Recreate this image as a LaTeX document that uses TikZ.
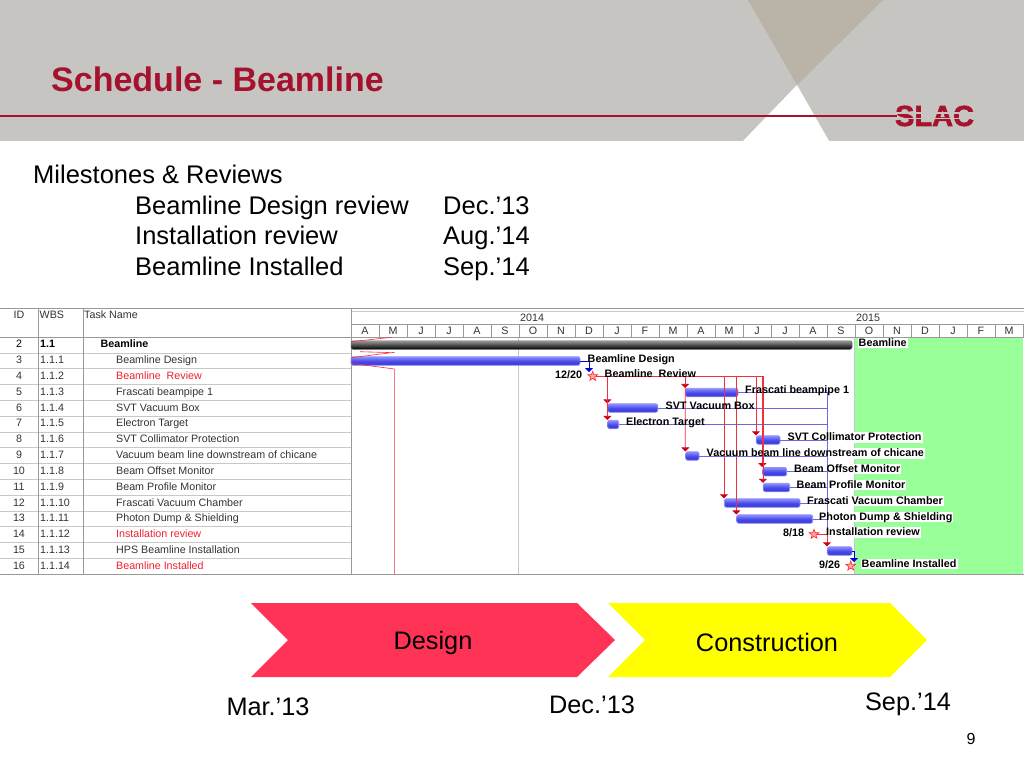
\documentclass[tikz,border=0pt]{standalone}
\usepackage{fontspec}
\setmainfont{Liberation Sans}
\newfontfamily\slacfont[BoldFeatures={FakeBold=2}]{Liberation Sans}
\usetikzlibrary{
    arrows.meta,
    shapes.geometric,
}
\definecolor{slacred}{HTML}{A5122E}
\definecolor{headgrey}{HTML}{C6C5C2}
\definecolor{headdark}{HTML}{B9B3A8}
\definecolor{gridgrey}{HTML}{C8C8C8}
\definecolor{framegrey}{HTML}{999999}
\definecolor{donegreen}{HTML}{99FF99}
\definecolor{taskred}{HTML}{F02030}
\definecolor{designred}{HTML}{FF3355}
\definecolor{buildyellow}{HTML}{FFFF00}
\definecolor{barblue}{HTML}{4C4CEE}
\definecolor{barlight}{HTML}{9090F8}
\definecolor{bardark}{HTML}{3434D0}
\definecolor{linkred}{HTML}{F03040}
\definecolor{tipred}{HTML}{D00010}
\definecolor{linkblue}{HTML}{6A6AE0}
\tikzset{
  bigtext/.style={anchor=base west,inner sep=0pt,font=\fontsize{25.5}{28}\selectfont},
  celltext/.style={inner sep=0pt,text=black!80,font=\fontsize{10.7}{12}\selectfont,text height=8pt,text depth=2.3pt},
  barback/.style={anchor=west,inner sep=1pt,fill=white,text=white,font=\bfseries\fontsize{10.8}{12}\selectfont,text height=7.8pt,text depth=.6pt},
  barlabel/.style={anchor=west,inner sep=1pt,font=\bfseries\fontsize{10.8}{12}\selectfont,text height=7.8pt,text depth=.6pt},
  datelabel/.style={anchor=west,inner sep=0pt,font=\bfseries\fontsize{10.8}{12}\selectfont},
  taskbar/.style={rounded corners=2pt,inner sep=0pt,minimum height=8.5pt,draw=barlight,line width=.7pt,
    top color=barlight,bottom color=bardark,middle color=barblue},
  sumbar/.style={rounded corners=2pt,inner sep=0pt,minimum height=8.5pt,draw=black!60,line width=.5pt,
    top color=black!40,bottom color=black,middle color=black!70},
  milestone/.style={star,star points=5,star point ratio=2.4,inner sep=0pt,minimum size=10pt,fill=red!35,draw=red!85,line width=.6pt},
  redlink/.style={draw=linkred,line width=.6pt},
  redtip/.style={draw=linkred,line width=.7pt,-{Triangle[width=8pt,length=4pt,color=tipred]}},
  bluelink/.style={draw=linkblue,line width=.6pt},
  bluetip/.style={draw=blue!85!black,line width=.8pt,-{Triangle[width=8pt,length=4pt]}},
  phaselabel/.style={inner sep=0pt,font=\fontsize{25.3}{28}\selectfont},
}
\begin{document}
\begin{tikzpicture}[x=1pt,y=-1pt]
  \useasboundingbox (0,0) rectangle (1024,768);

  % slide header
  \fill[headgrey] (0,0) rectangle (1024,141);
  \fill[headdark] (748,0) -- (883,0) -- (797,85) -- cycle;
  \fill[white] (797,85) -- (743,141) -- (829,141) -- cycle;
  \node[anchor=base west,inner sep=0pt,text=slacred,font=\bfseries\fontsize{34}{36}\selectfont] (title) at (51,91) {Schedule - Beamline};
  \draw[draw=slacred,line width=2.2pt] (0,115.6) -- (897,115.6);
  \node[inner sep=0pt,text=slacred,font=\slacfont\bfseries\fontsize{29}{30}\selectfont] (slac) at (934.5,116) {SLAC};
  \draw[draw=headgrey,line width=1.1pt] (slac.west |- 0,113) -- (slac.east |- 0,113) (slac.west |- 0,118.4) -- (slac.east |- 0,118.4);

  % milestones
  \node[bigtext] (mile) at (33,183) {Milestones \& Reviews};
  \node[bigtext] (mile1) at (135,214) {Beamline Design review};
  \node[bigtext] (date1) at (443,214) {Dec.’13};
  \node[bigtext] (mile2) at (135,244) {Installation review};
  \node[bigtext] (date2) at (443,244) {Aug.’14};
  \node[bigtext] (mile3) at (135,275) {Beamline Installed};
  \node[bigtext] (date3) at (443,275) {Sep.’14};

  % gantt background and frame
  \fill[donegreen] (855,337) rectangle (1023,574);
  \draw[gridgrey,line width=.5pt] (518.5,337) -- (518.5,574) (854.5,337) -- (854.5,574);
  \foreach \i in {0,...,14}
    \draw[gridgrey,line width=.6pt] (0,{337+15.8*\i}) -- (351,{337+15.8*\i});
  \draw[framegrey,line width=.7pt] (0,308) -- (1024,308) (0,574) -- (1024,574) (0,337) -- (1024,337);
  \draw[gridgrey,line width=.7pt] (351,311.5) -- (1024,311.5);
  \draw[framegrey,line width=.6pt] (351,324) -- (1024,324);
  \draw[framegrey,line width=.6pt] (38.5,308) -- (38.5,574) (83,308) -- (83,574) (351,308) -- (351,574);

  % table
  \node[celltext,anchor=center] (hid) at (19,316) {ID};
  \node[celltext,anchor=west] (hwbs) at (39.5,316) {WBS};
  \node[celltext,anchor=west] (hname) at (84,316) {Task Name};
  \node[celltext,anchor=center,text=black] (id2) at (19,345) {2};
  \node[celltext,anchor=west,text=black,font=\bfseries\fontsize{10.7}{12}\selectfont] (wbs2) at (40,345) {1.1};
  \node[celltext,anchor=west,text=black,font=\bfseries\fontsize{10.7}{12}\selectfont] (name2) at (100.5,345) {Beamline};
  \foreach \id/\wbs/\task/\col [count=\i from 1] in {
      3/1.1.1/Beamline Design/black!80,
      4/1.1.2/Beamline\ \ Review/taskred,
      5/1.1.3/Frascati beampipe 1/black!80,
      6/1.1.4/SVT Vacuum Box/black!80,
      7/1.1.5/Electron Target/black!80,
      8/1.1.6/SVT Collimator Protection/black!80,
      9/1.1.7/Vacuum beam line downstream of chicane/black!80,
      10/1.1.8/Beam Offset Monitor/black!80,
      11/1.1.9/Beam Profile Monitor/black!80,
      12/1.1.10/Frascati Vacuum Chamber/black!80,
      13/1.1.11/Photon Dump \& Shielding/black!80,
      14/1.1.12/Installation review/taskred,
      15/1.1.13/HPS Beamline Installation/black!80,
      16/1.1.14/Beamline Installed/taskred} {
    \node[celltext,anchor=center] (id\id) at (19,{345+15.82*\i}) {\id};
    \node[celltext,anchor=west] (wbs\id) at (40,{345+15.82*\i}) {\wbs};
    \node[celltext,anchor=west,text=\col] (name\id) at (116,{345+15.82*\i}) {\task};
  }

  % timescale
  \node[celltext,anchor=west] (y2014) at (520,318.5) {2014};
  \node[celltext,anchor=west] (y2015) at (856,318.5) {2015};
  \foreach \m [count=\i from 0] in {A,M,J,J,A,S,O,N,D,J,F,M,A,M,J,J,A,S,O,N,D,J,F,M} {
    \node[celltext,anchor=center] (month\i) at ({365+28*\i},331.5) {\m};
    \draw[framegrey,line width=.5pt] ({379+28*\i},324) -- ({379+28*\i},337);
  }

  % white backs of the labels on the green part
  \foreach \nm/\xa/\ya/\txt in {
      bsum/857.5/342.7/Beamline,
      bcol/786.5/437.3/SVT Collimator Protection,
      bvac/705.5/453.3/Vacuum beam line downstream of chicane,
      boff/793/469/Beam Offset Monitor,
      bpro/795.5/485/Beam Profile Monitor,
      bfvc/806/501/Frascati Vacuum Chamber,
      bpho/818/516.7/Photon Dump \& Shielding,
      bins/825/532.3/Installation review,
      bend/860.5/564/Beamline Installed}
    \node[barback] (\nm) at (\xa,\ya) {\txt};

  % bars
  \node[sumbar,minimum width=501pt] (sumbar) at (601.5,345) {};
  \foreach \nm/\xa/\xb/\yc in {
      desbar/351/580/361,
      pipebar/685.5/738/392.5,
      boxbar/607.7/657.7/408,
      tgtbar/607.7/618.7/424.5,
      colbar/756.3/780/440,
      vacbar/685.7/699/456,
      offbar/762.7/786.7/471.7,
      probar/763.3/789.7/487.5,
      fvcbar/724.3/800/503,
      phobar/736.7/812.7/519,
      hpsbar/827.3/852/551}
    \node[taskbar,minimum width={\xb-\xa}] (\nm) at ({(\xa+\xb)/2},\yc) {};

  % milestones
  \node[milestone] (revstar) at (592.7,376.3) {};
  \node[milestone] (insstar) at (814,534.3) {};
  \node[milestone] (endstar) at (850.7,566) {};
  \coordinate (revend) at (762.3,376.3);
  \coordinate (destip) at (589,372);
  \coordinate (hpstip) at (854,562);

  % links
  \draw[bluelink] (pipebar.east) -| (hpsbar.north west);
  \foreach \bar in {boxbar,tgtbar,colbar,vacbar,offbar,probar,fvcbar,phobar}
    \draw[bluelink] (\bar.east) -- (\bar.east -| hpsbar.north west);
  \draw[redlink] (revstar) -- (revend);
  \foreach \bar in {boxbar,tgtbar,pipebar,colbar,fvcbar,phobar,offbar,probar}
    \draw[redtip] (\bar.north west |- revstar) -- (\bar.north west);
  \draw[redtip] (pipebar.north west) -- (vacbar.north west);
  \draw[redtip] (insstar) -| (hpsbar.north west);
  \draw[bluetip] (desbar.east) -| (destip);
  \draw[bluetip] (hpsbar.east) -| (hpstip);

  % bar labels
  \foreach \nm/\xa/\ya/\txt in {
      lsum/857.5/342.7/Beamline,
      ldes/586.5/358.5/Beamline Design,
      lrev/603.5/374/Beamline\ \ Review,
      lpipe/744/390/Frascati beampipe 1,
      lbox/664.5/405.7/SVT Vacuum Box,
      ltgt/625/421.7/Electron Target,
      lcol/786.5/437.3/SVT Collimator Protection,
      lvac/705.5/453.3/Vacuum beam line downstream of chicane,
      loff/793/469/Beam Offset Monitor,
      lpro/795.5/485/Beam Profile Monitor,
      lfvc/806/501/Frascati Vacuum Chamber,
      lpho/818/516.7/Photon Dump \& Shielding,
      lins/825/532.3/Installation review,
      lend/860.5/564/Beamline Installed}
    \node[barlabel] (\nm) at (\xa,\ya) {\txt};
  \node[datelabel] (d1220) at (555,374.5) {12/20};
  \node[datelabel] (d818) at (783,532.8) {8/18};
  \node[datelabel] (d926) at (819,564.5) {9/26};

  % red slack lines at the left
  \coordinate (stat) at (394.3,369);
  \draw[draw=linkred,line width=.6pt] (351,341.7) -- (391.7,337.3)
    (360,351.7) -- (394.3,352.7) (351,357.7) -- (394.3,352.3)
    (351,363.3) -- (stat) -- (394.3,574);

  % phases
  \fill[designred] (251,603) -- (577,603) -- (615,640) -- (577,677) -- (251,677) -- (288,640) -- cycle;
  \fill[buildyellow] (608,603) -- (890,603) -- (927,640) -- (890,677) -- (608,677) -- (645,640) -- cycle;
  \node[phaselabel] (design) at (433,642.5) {Design};
  \node[phaselabel] (constr) at (767,642) {Construction};
  \node[phaselabel] (mar13) at (268,707) {Mar.’13};
  \node[phaselabel] (dec13) at (592,705) {Dec.’13};
  \node[phaselabel] (sep14) at (908,704) {Sep.’14};
  \node[inner sep=0pt,font=\fontsize{16}{18}\selectfont] (page) at (971,739) {9};
\end{tikzpicture}
\end{document}
